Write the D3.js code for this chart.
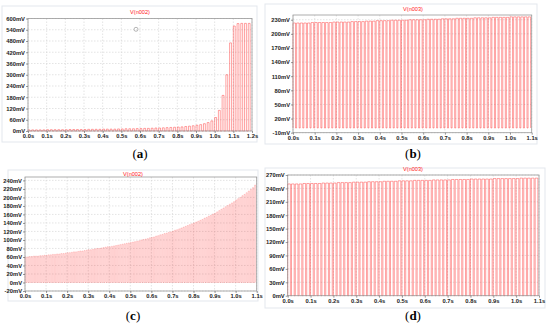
<!DOCTYPE html>
<html>
<head>
<meta charset="utf-8">
<script src="https://cdn.jsdelivr.net/npm/d3@7"></script>
<style>
  body { margin: 0; background: #fff; }
  svg { display: block; }
  .tick text { font-family: "Liberation Sans", Arial, sans-serif; font-weight: bold; font-size: 5.8px; fill: #222; }
</style>
</head>
<body>
<svg id="fig" width="550" height="328"></svg>
<script>
// (a) V(n002) - pulse train, peaks in mV
var aPeriod = 0.02
var aPeaks = [6, 6, 6, 6, 6, 7, 7, 7, 7, 7,
  7, 8, 8, 8, 8, 8, 9, 9, 9, 9,
  10, 10, 10, 10, 11, 11, 12, 12, 12, 13,
  13, 14, 14, 15, 16, 16, 17, 18, 19, 20,
  21, 22, 24, 26, 28, 31, 34, 39, 45, 54,
  72, 110, 190, 300, 470, 560, 573, 574, 574, 574]

// (b) V(n003)
var bPeriod = 1 / 60
var bPeaks = [223, 223, 223, 223, 223, 224, 224, 224, 224, 224, 224,
  225, 225, 225, 225, 225, 226, 226, 226, 226, 227, 227,
  227, 228, 228, 228, 228, 229, 229, 229, 229, 229, 230,
  230, 230, 230, 230, 231, 231, 231, 231, 232, 232, 232,
  232, 233, 233, 233, 233, 233, 234, 234, 234, 234, 234,
  235, 235, 235, 235, 235, 236, 236, 236, 236, 236, 236]

// (c) V(n002)
var cPeriod = 0.01
var cPeaks = [60, 60, 61, 61, 62, 62, 62, 63, 63, 64,
  64, 65, 65, 66, 66, 67, 67, 68, 68, 69,
  70, 70, 71, 72, 72, 73, 74, 74, 75, 76,
  77, 77, 78, 79, 80, 80, 81, 82, 83, 84,
  84, 85, 86, 87, 88, 89, 90, 91, 92, 93,
  94, 95, 96, 97, 98, 100, 101, 102, 103, 105,
  106, 107, 109, 110, 112, 113, 115, 116, 118, 119,
  121, 123, 124, 126, 128, 130, 132, 134, 136, 138,
  140, 142, 144, 146, 148, 151, 153, 156, 158, 161,
  163, 166, 169, 172, 175, 178, 181, 184, 187, 190,
  194, 197, 200, 204, 207, 211, 215, 219, 223, 229]

// (d) V(n003)
var dPeriod = 1 / 60
var dPeaks = [250, 250, 250, 250, 251, 251, 251, 251, 251, 252, 252,
  252, 252, 253, 253, 253, 253, 254, 254, 254, 254, 255,
  255, 255, 255, 256, 256, 256, 256, 257, 257, 257, 257,
  258, 258, 258, 258, 258, 259, 259, 259, 259, 259, 260,
  260, 260, 260, 260, 261, 261, 261, 261, 261, 261, 262,
  262, 262, 262, 262, 262, 262, 263, 263, 263, 263, 263]

var aYTicks = d3.range(0, 601, 60)
var bYTicks = d3.range(-10, 231, 30)
var cYTicks = d3.range(-20, 241, 20)
var dYTicks = d3.range(0, 271, 30)
var aXTicks = d3.range(0, 12.5, 1).map(function (d) { return d / 10 })
var xTicks11 = d3.range(0, 11.5, 1).map(function (d) { return d / 10 })

var svg = d3.select('#fig')
var red = '#ff2020'

function drawPanel (p) {
  var g = svg.append('g')

  // light frame round the screenshot
  g.append('rect')
    .attr('x', p.box[0]).attr('y', p.box[1])
    .attr('width', p.box[2]).attr('height', p.box[3])
    .attr('fill', 'none').attr('stroke', '#e3e7ed').attr('stroke-width', 1)

  var x = d3.scaleLinear().domain(p.xDomain).range([p.plot[0], p.plot[1]])
  var y = d3.scaleLinear().domain(p.yDomain).range([p.plot[3], p.plot[2]])

  // grid
  g.append('g').selectAll('line').data(p.xTicks).enter().append('line')
    .attr('x1', function (d) { return x(d) }).attr('x2', function (d) { return x(d) })
    .attr('y1', p.plot[2]).attr('y2', p.plot[3])
    .attr('stroke', '#d2d2d2').attr('stroke-width', 0.6).attr('stroke-dasharray', '1.5,1.5')
  g.append('g').selectAll('line').data(p.yTicks).enter().append('line')
    .attr('x1', p.plot[0]).attr('x2', p.plot[1])
    .attr('y1', function (d) { return y(d) }).attr('y2', function (d) { return y(d) })
    .attr('stroke', '#d2d2d2').attr('stroke-width', 0.6).attr('stroke-dasharray', '1.5,1.5')

  // waveform
  var pts = []
  p.peaks.forEach(function (v, i) {
    var t0 = i * p.period, t1 = t0 + p.duty * p.period
    pts.push([t0, p.low], [t0, v], [t1, v], [t1, p.low])
  })
  var line = d3.line()
    .x(function (d) { return x(Math.min(d[0], p.xDomain[1])) })
    .y(function (d) { return y(d[1]) })
  g.append('path').attr('d', line(pts))
    .attr('fill', 'none').attr('stroke', red)
    .attr('stroke-width', p.lw).attr('stroke-opacity', p.op)

  // plot frame
  g.append('rect')
    .attr('x', p.plot[0]).attr('y', p.plot[2])
    .attr('width', p.plot[1] - p.plot[0]).attr('height', p.plot[3] - p.plot[2])
    .attr('fill', 'none').attr('stroke', '#9a9a9a').attr('stroke-width', 0.8)

  // axes
  var ya = g.append('g').attr('transform', 'translate(' + p.plot[0] + ',0)')
    .call(d3.axisLeft(y).tickValues(p.yTicks).tickSize(2).tickPadding(1)
      .tickFormat(function (d) { return d + 'mV' }))
  var xa = g.append('g').attr('transform', 'translate(0,' + p.plot[3] + ')')
    .call(d3.axisBottom(x).tickValues(p.xTicks).tickSize(2).tickPadding(1)
      .tickFormat(function (d) { return d.toFixed(1) + 's' }))
  ya.select('.domain').remove()
  xa.select('.domain').remove()
  g.selectAll('.tick line').attr('stroke', '#555').attr('stroke-width', 0.6)

  g.append('text').attr('x', p.title[0]).attr('y', p.title[1])
    .attr('text-anchor', 'middle')
    .style('font-family', '"Liberation Sans", Arial, sans-serif')
    .style('font-size', '5.6px').attr('fill', red)
    .text(p.title[2])

  var cap = g.append('text').attr('x', p.caption[0]).attr('y', p.caption[1])
    .attr('text-anchor', 'middle')
    .style('font-family', '"Liberation Serif", "Times New Roman", serif')
    .style('font-size', '13px').attr('fill', '#000')
  cap.append('tspan').text('(')
  cap.append('tspan').style('font-weight', 'bold').text(p.caption[2])
  cap.append('tspan').text(')')
  return { x: x, y: y, g: g }
}

var pa = drawPanel({
  box: [2, 6, 255, 136], plot: [28, 252, 18.5, 131],
  xDomain: [0, 1.2], yDomain: [0, 600], xTicks: aXTicks, yTicks: aYTicks,
  period: aPeriod, duty: 0.5, peaks: aPeaks, low: 0, lw: 0.6, op: 0.7,
  title: [140, 14, 'V(n002)'], caption: [140, 158, 'a']
})
// cursor marker left on the screenshot
pa.g.append('circle').attr('cx', 136).attr('cy', 29.3).attr('r', 2)
  .attr('fill', 'none').attr('stroke', '#888').attr('stroke-width', 0.6)

drawPanel({
  box: [265, 4, 272, 140], plot: [293, 531.7, 15, 132.7],
  xDomain: [0, 1.1], yDomain: [-10, 240], xTicks: xTicks11, yTicks: bYTicks,
  period: bPeriod, duty: 0.7, peaks: bPeaks, low: 0, lw: 0.6, op: 0.7,
  title: [413, 11, 'V(n003)'], caption: [413, 158, 'b']
})

drawPanel({
  box: [8, 170, 250, 131], plot: [25, 256.7, 177, 291],
  xDomain: [0, 1.1], yDomain: [-20, 248], xTicks: xTicks11, yTicks: cYTicks,
  period: cPeriod, duty: 0.5, peaks: cPeaks, low: 0, lw: 0.4, op: 0.55,
  title: [133, 175.5, 'V(n002)'], caption: [133, 320, 'c']
})

drawPanel({
  box: [265, 168, 280, 140], plot: [287.7, 539, 175, 295.7],
  xDomain: [0, 1.1], yDomain: [0, 270], xTicks: xTicks11, yTicks: dYTicks,
  period: dPeriod, duty: 0.7, peaks: dPeaks, low: 0, lw: 0.6, op: 0.7,
  title: [413, 171, 'V(n003)'], caption: [413, 320, 'd']
})
</script>
</body>
</html>
